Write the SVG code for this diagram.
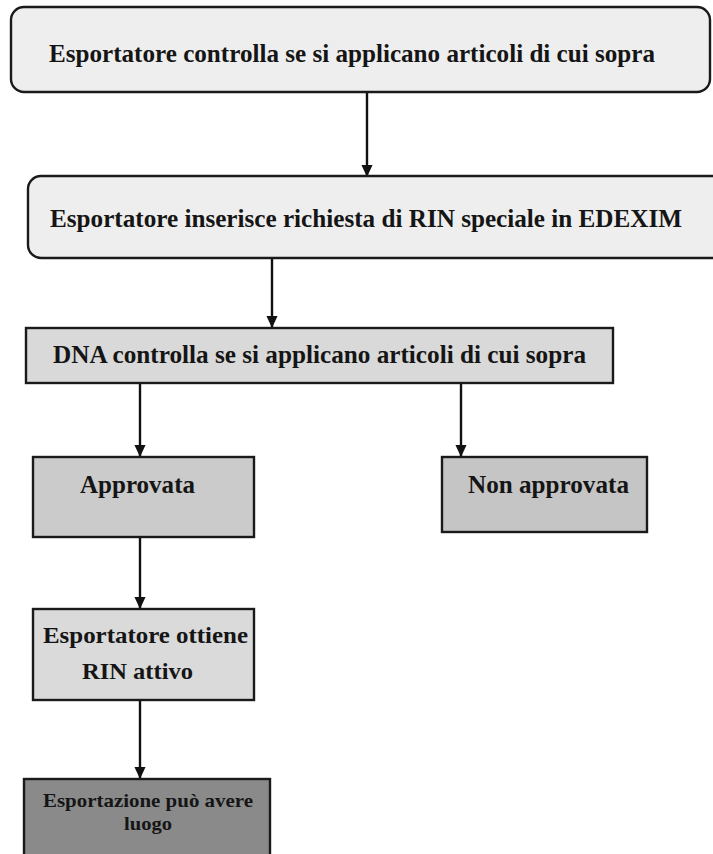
<svg xmlns="http://www.w3.org/2000/svg" width="713" height="854" viewBox="0 0 713 854">
<defs>
<marker id="ah" viewBox="0 0 12 13" refX="12" refY="6" markerWidth="13" markerHeight="12" markerUnits="userSpaceOnUse" orient="auto">
<path d="M0,0 L13,6 L0,12 z" fill="#111"/>
</marker>
</defs>
<style>
.box{stroke:#1a1a1a;stroke-width:2.4}
.t{font-family:"Liberation Serif","Times New Roman",serif;font-weight:bold;fill:#151515}
.c{stroke:#111;stroke-width:2.4;fill:none}
</style>
<rect width="713" height="854" fill="#fff"/>
<g id="connectors">
<line class="c" x1="367" y1="92" x2="367" y2="176" marker-end="url(#ah)"/>
<line class="c" x1="272" y1="258" x2="272" y2="327" marker-end="url(#ah)"/>
<line class="c" x1="140" y1="383" x2="140" y2="456" marker-end="url(#ah)"/>
<line class="c" x1="461" y1="383" x2="461" y2="456" marker-end="url(#ah)"/>
<line class="c" x1="140" y1="537" x2="140" y2="608" marker-end="url(#ah)"/>
<line class="c" x1="140" y1="700" x2="140" y2="778" marker-end="url(#ah)"/>
</g>
<g id="n1">
<rect class="box" x="11" y="7" width="699" height="85" rx="13" fill="#eeeeee"/>
<text class="t" x="49" y="62" font-size="26" textLength="606" lengthAdjust="spacingAndGlyphs">Esportatore controlla se si applicano articoli di cui sopra</text>
</g>
<g id="n2">
<rect class="box" x="28" y="176" width="700" height="82" rx="13" fill="#eeeeee"/>
<text class="t" x="50" y="227" font-size="26" textLength="632" lengthAdjust="spacingAndGlyphs">Esportatore inserisce richiesta di RIN speciale in EDEXIM</text>
</g>
<g id="n3">
<rect class="box" x="26" y="328" width="587" height="55" fill="#d9d9d9"/>
<text class="t" x="53" y="363" font-size="26" textLength="533" lengthAdjust="spacingAndGlyphs">DNA controlla se si applicano articoli di cui sopra</text>
</g>
<g id="n4">
<rect class="box" x="33" y="457" width="221" height="80" fill="#cbcbcb"/>
<text class="t" x="80" y="493" font-size="25" textLength="115" lengthAdjust="spacingAndGlyphs">Approvata</text>
</g>
<g id="n5">
<rect class="box" x="442" y="457" width="205" height="75" fill="#c5c5c5"/>
<text class="t" x="468" y="493" font-size="25" textLength="161" lengthAdjust="spacingAndGlyphs">Non approvata</text>
</g>
<g id="n6">
<rect class="box" x="33" y="609" width="221" height="91" fill="#dadada"/>
<text class="t" x="43" y="643" font-size="24" textLength="205" lengthAdjust="spacingAndGlyphs">Esportatore ottiene</text>
<text class="t" x="82" y="679" font-size="24" textLength="111" lengthAdjust="spacingAndGlyphs">RIN attivo</text>
</g>
<g id="n7">
<rect class="box" x="24" y="779" width="246" height="85" fill="#8a8a8a"/>
<text class="t" x="43" y="807" font-size="19" textLength="210" lengthAdjust="spacingAndGlyphs">Esportazione può avere</text>
<text class="t" x="124" y="830" font-size="19" textLength="48" lengthAdjust="spacingAndGlyphs">luogo</text>
</g>
</svg>
